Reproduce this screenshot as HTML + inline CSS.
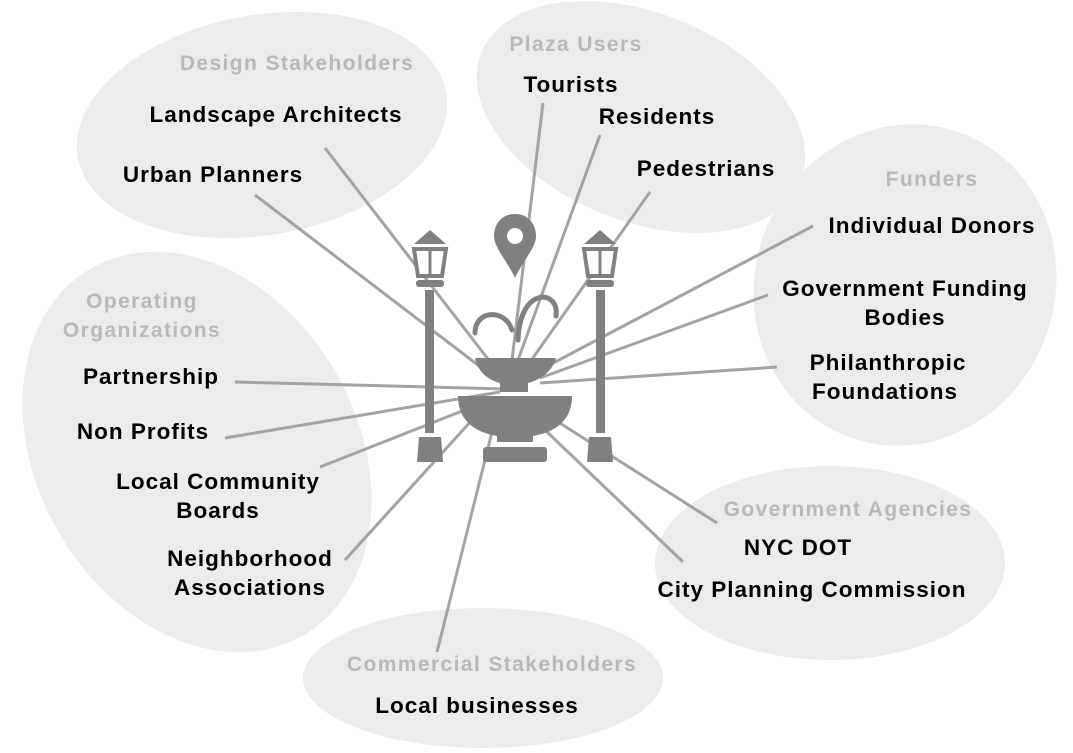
<!DOCTYPE html>
<html><head><meta charset="utf-8"><style>
html,body{margin:0;padding:0;background:#fff;}
svg{display:block;font-family:"Liberation Sans",Arial,sans-serif;font-weight:bold;}
.h{fill:#b9b9b9;font-size:21px;letter-spacing:1.4px;}
.l{fill:#000;font-size:22.5px;letter-spacing:1px;}
.e{fill:#ececec;}
.ln{stroke:#a3a3a3;stroke-width:3;}
.ic{fill:#808080;}
</style></head><body>
<svg width="1073" height="753" viewBox="0 0 1073 753">
<g>
<ellipse class="e" cx="262" cy="125" rx="187" ry="110" transform="rotate(-10 262 125)"/>
<ellipse class="e" cx="641" cy="117" rx="172" ry="104" transform="rotate(22 641 117)"/>
<ellipse class="e" cx="905" cy="285" rx="150" ry="162" transform="rotate(20 905 285)"/>
<ellipse class="e" cx="197" cy="452" rx="160" ry="212" transform="rotate(-30 197 452)"/>
<ellipse class="e" cx="830" cy="563" rx="175" ry="97"/>
<ellipse class="e" cx="483" cy="678" rx="180" ry="70"/>
</g>
<g>
<line class="ln" x1="325" y1="148" x2="498" y2="372"/>
<line class="ln" x1="255" y1="195" x2="495" y2="378"/>
<line class="ln" x1="543" y1="103" x2="512" y2="360"/>
<line class="ln" x1="600" y1="135" x2="518" y2="360"/>
<line class="ln" x1="650" y1="192" x2="530" y2="362"/>
<line class="ln" x1="813" y1="226" x2="540" y2="370"/>
<line class="ln" x1="768" y1="295" x2="540" y2="378"/>
<line class="ln" x1="777" y1="367" x2="540" y2="383"/>
<line class="ln" x1="235" y1="382" x2="505" y2="389"/>
<line class="ln" x1="225" y1="438" x2="500" y2="392"/>
<line class="ln" x1="320" y1="467" x2="490" y2="400"/>
<line class="ln" x1="345" y1="560" x2="472" y2="420"/>
<line class="ln" x1="437" y1="652" x2="495" y2="420"/>
<line class="ln" x1="717" y1="523" x2="555" y2="420"/>
<line class="ln" x1="683" y1="562" x2="545" y2="430"/>
</g>
<g>
<path class="ic" d="M515 214 C500 214 494 226 494 236 C494 248 508 262 515 278 C522 262 536 248 536 236 C536 226 530 214 515 214 Z"/>
<circle cx="515" cy="236" r="8" fill="#fff"/>
<path d="M475 333 C475 310 505 308 512 330" stroke="#808080" stroke-width="5" fill="none" stroke-linecap="round"/>
<path d="M518 340 C520 285 560 290 556 316" stroke="#808080" stroke-width="5" fill="none" stroke-linecap="round"/>
<path class="ic" d="M475 358 L556 358 C552 372 540 380 528 383 L528 392 L500 392 L500 383 C488 380 478 372 475 358 Z"/>
<path class="ic" d="M458 396 L572 396 C572 420 556 432 533 436 L533 442 L497 442 L497 436 C474 432 458 420 458 396 Z"/>
<rect class="ic" x="483" y="447" width="64" height="15" rx="3"/>
<g>
<path class="ic" d="M430 230 L446 244 L414 244 Z"/>
<path d="M414 249 L446 249 L442 276 L418 276 Z" fill="#fff" stroke="#808080" stroke-width="4"/>
<line x1="430" y1="250" x2="430" y2="276" stroke="#808080" stroke-width="3"/>
<rect class="ic" x="416" y="280" width="28" height="7" rx="3"/>
<rect class="ic" x="425" y="290" width="9" height="143"/>
<path class="ic" d="M419 437 L441 437 L443 462 L417 462 Z"/>
</g>
<g>
<path class="ic" d="M600 230 L616 244 L584 244 Z"/>
<path d="M584 249 L616 249 L612 276 L588 276 Z" fill="#fff" stroke="#808080" stroke-width="4"/>
<line x1="600" y1="250" x2="600" y2="276" stroke="#808080" stroke-width="3"/>
<rect class="ic" x="586" y="280" width="28" height="7" rx="3"/>
<rect class="ic" x="596" y="290" width="9" height="143"/>
<path class="ic" d="M589 437 L611 437 L613 462 L587 462 Z"/>
</g>
</g>
<g>
<text class="h" x="297" y="70" text-anchor="middle">Design Stakeholders</text>
<text class="h" x="576" y="51" text-anchor="middle">Plaza Users</text>
<text class="h" x="932" y="186" text-anchor="middle">Funders</text>
<text class="h" x="142" y="308" text-anchor="middle">Operating</text>
<text class="h" x="142" y="337" text-anchor="middle">Organizations</text>
<text class="h" x="848" y="516" text-anchor="middle">Government Agencies</text>
<text class="h" x="492" y="671" text-anchor="middle">Commercial Stakeholders</text>
</g>
<g>
<text class="l" x="276" y="122" text-anchor="middle">Landscape Architects</text>
<text class="l" x="213" y="182" text-anchor="middle">Urban Planners</text>
<text class="l" x="571" y="92" text-anchor="middle">Tourists</text>
<text class="l" x="657" y="124" text-anchor="middle">Residents</text>
<text class="l" x="706" y="176" text-anchor="middle">Pedestrians</text>
<text class="l" x="932" y="233" text-anchor="middle">Individual Donors</text>
<text class="l" x="905" y="296" text-anchor="middle">Government Funding</text>
<text class="l" x="905" y="325" text-anchor="middle">Bodies</text>
<text class="l" x="888" y="370" text-anchor="middle">Philanthropic</text>
<text class="l" x="885" y="399" text-anchor="middle">Foundations</text>
<text class="l" x="151" y="384" text-anchor="middle">Partnership</text>
<text class="l" x="143" y="439" text-anchor="middle">Non Profits</text>
<text class="l" x="218" y="489" text-anchor="middle">Local Community</text>
<text class="l" x="218" y="518" text-anchor="middle">Boards</text>
<text class="l" x="250" y="566" text-anchor="middle">Neighborhood</text>
<text class="l" x="250" y="595" text-anchor="middle">Associations</text>
<text class="l" x="798" y="555" text-anchor="middle">NYC DOT</text>
<text class="l" x="812" y="597" text-anchor="middle">City Planning Commission</text>
<text class="l" x="477" y="713" text-anchor="middle">Local businesses</text>
</g>
</svg>
</body></html>
